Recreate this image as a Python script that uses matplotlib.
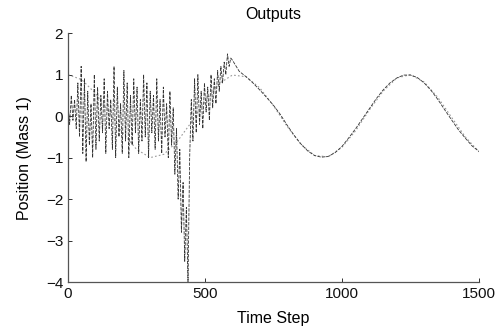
import numpy as np
import matplotlib
matplotlib.use("Agg")
import matplotlib.pyplot as plt

# ── Data ──────────────────────────────────────────────────────────────────────
# noisy start of the output, one sample every 6 time steps (0 .. 594)
noisy_step = 6
noisy_y = [
    0.3, -0.2, 0.5, -0.1, 0.4, -0.3, 0.8, -0.5, 1.2, -0.9,
    0.9, -1.1, 0.6, -0.7, 0.3, -1.0, 1.0, -0.8, 0.7, -0.6,
    0.5, -0.4, 0.9, -0.9, 0.6, -0.3, 0.4, -0.8, 1.2, -1.0,
    0.7, -0.5, 0.3, -0.9, 1.1, -0.6, 0.8, -1.0, 0.5, -0.7,
    0.9, -0.4, 0.7, -0.9, 0.4, -0.6, 1.0, -0.5, 0.8, -1.0,
    0.6, -0.4, 0.5, -0.8, 0.9, -0.6, 0.4, -0.9, 0.7, -0.5,
    0.3, -1.0, 0.6, -0.7, 0.2, -1.4, -0.3, -2.0, -0.8, -2.8,
    -1.6, -3.5, -2.2, -4.0, -1.0, 0.4, -0.6, 0.9, -0.4, 1.0,
    -0.2, 0.6, -0.3, 0.8, 0.1, 0.7, -0.1, 1.0, 0.2, 0.9,
    0.3, 1.1, 0.6, 1.2, 0.8, 1.3, 1.0, 1.5, 1.2, 1.4,
]

# settled output, every 25 steps (600 .. 1500)
tail_t = [600, 625, 650, 675, 700, 725, 750, 775, 800, 825, 850, 875, 900,
          925, 950, 975, 1000, 1025, 1050, 1075, 1100, 1125, 1150, 1175,
          1200, 1225, 1250, 1275, 1300, 1325, 1350, 1375, 1400, 1425, 1450,
          1475, 1500]
tail_y = [1.35, 1.08, 0.95, 0.8, 0.63, 0.45, 0.26, 0.04, -0.22, -0.46,
          -0.67, -0.84, -0.95, -0.99, -0.97, -0.88, -0.73, -0.52, -0.3,
          -0.06, 0.18, 0.42, 0.63, 0.8, 0.92, 0.99, 0.99, 0.93, 0.8, 0.62,
          0.4, 0.15, -0.09, -0.33, -0.53, -0.72, -0.85]

# desired (reference) trajectory, every 50 steps
ref_t = list(range(0, 1501, 50))
ref_y = [1.0, 0.88, 0.55, 0.1, -0.4, -0.8, -1.0, -0.92, -0.6, -0.15, 0.35,
         0.78, 0.99, 0.95, 0.68, 0.25, -0.25, -0.68, -0.95, -0.98, -0.75,
         -0.35, 0.15, 0.6, 0.92, 1.0, 0.82, 0.45, -0.03, -0.5, -0.86]

x_ticks = [0, 500, 1000, 1500]
y_ticks = [-4, -3, -2, -1, 0, 1, 2]

# ── Figure ────────────────────────────────────────────────────────────────────
plt.rcParams["font.family"] = ["Liberation Sans", "DejaVu Sans"]

fig = plt.figure(figsize=(5.0, 3.35), dpi=100)
ax = fig.add_axes([0.136, 0.158, 0.822, 0.743])

noisy_t = np.arange(len(noisy_y)) * noisy_step
out_t = np.concatenate([noisy_t, tail_t])
out_y = np.concatenate([noisy_y, tail_y])

ax.plot(ref_t, ref_y, color="#999999", linestyle=(0, (1.5, 2)), linewidth=0.8)
ax.plot(out_t, out_y, color="#333333", linestyle=(0, (4, 1.5)), linewidth=0.6)

ax.set_xlim(0, 1500)
ax.set_ylim(-4, 2)
ax.set_xticks(x_ticks)
ax.set_yticks(y_ticks)
ax.tick_params(direction="in", length=3, width=0.6, labelsize=11,
               colors="#111111")
for side in ("top", "right"):
    ax.spines[side].set_visible(False)
for side in ("left", "bottom"):
    ax.spines[side].set_color("#555555")
    ax.spines[side].set_linewidth(0.9)

ax.set_title("Outputs", fontsize=11.5, pad=10)
ax.set_xlabel("Time Step", fontsize=11.5, labelpad=7)
ax.set_ylabel("Position (Mass 1)", fontsize=11.5, labelpad=10)

fig.savefig("out.png", dpi=100)
